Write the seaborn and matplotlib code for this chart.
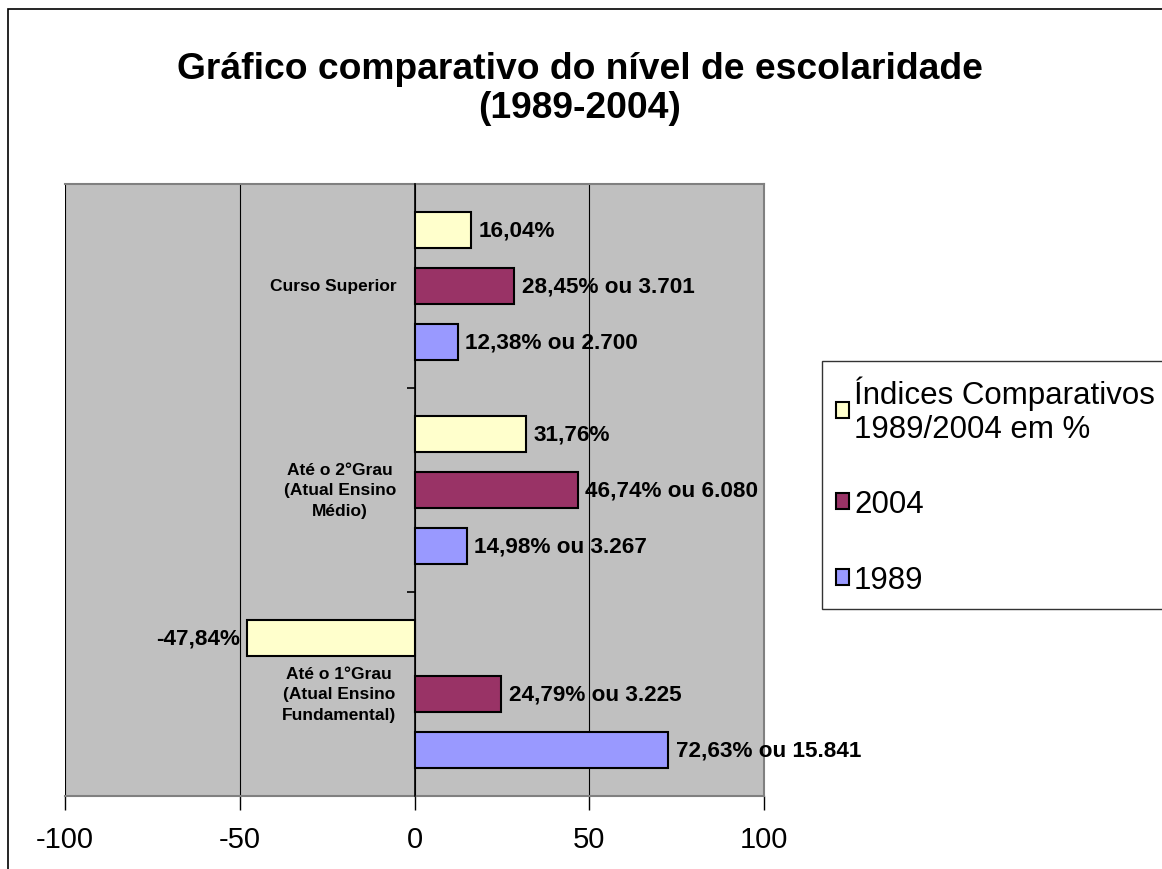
import matplotlib
matplotlib.use("Agg")
import matplotlib.pyplot as plt
import seaborn as sns
import pandas as pd
from matplotlib.patches import Rectangle

# ---- data ----
categories = ["Curso Superior",
              "Até o 2°Grau\n(Atual Ensino\nMédio)",
              "Até o 1°Grau\n(Atual Ensino\nFundamental)"]
series = ["Índices Comparativos\n1989/2004 em %", "2004", "1989"]
indices = [16.04, 31.76, -47.84]
v2004 = [28.45, 46.74, 24.79]
v1989 = [12.38, 14.98, 72.63]
labels_indices = ["16,04%", "31,76%", "-47,84%"]
labels_2004 = ["28,45% ou 3.701", "46,74% ou 6.080", "24,79% ou 3.225"]
labels_1989 = ["12,38% ou 2.700", "14,98% ou 3.267", "72,63% ou 15.841"]
xticks = [-100, -50, 0, 50, 100]
title = "Gráfico comparativo do nível de escolaridade\n(1989-2004)"
colors = ["#FFFFCC", "#993366", "#9999FF"]

plt.rcParams["font.family"] = ["Liberation Sans", "DejaVu Sans"]

df = pd.DataFrame({
    "cat": categories * 3,
    "series": [series[0]] * 3 + [series[1]] * 3 + [series[2]] * 3,
    "value": indices + v2004 + v1989,
})

W, H = 1162, 870
fig = plt.figure(figsize=(W / 100, H / 100), dpi=100)
fig.patch.set_facecolor("white")
ax = fig.add_axes([65 / W, 1 - 797 / H, (764 - 65) / W, (797 - 185) / H])
ax.set_facecolor("#C0C0C0")

sns.barplot(data=df, y="cat", x="value", hue="series", order=categories,
            hue_order=series, palette=dict(zip(series, colors)), orient="h",
            width=0.825, gap=0.345, saturation=1, edgecolor="black",
            linewidth=1.5, ax=ax, legend=True, zorder=3)

for cont, labs in zip(ax.containers, [labels_indices, labels_2004, labels_1989]):
    ax.bar_label(cont, labels=labs, padding=5.5, fontsize=16.2, fontweight="bold")

ax.set_xlim(-100, 100)
ax.set_ylim(2.5, -0.5)
ax.set_xticks(xticks)
ax.set_xticklabels([str(t) for t in xticks])
ax.tick_params(axis="x", labelsize=21, length=10, direction="out", pad=11,
               color="black", width=1)
ax.set_yticks([-0.5, 0.5, 1.5, 2.5])
ax.set_yticklabels(["", "", "", ""])
ax.tick_params(axis="y", length=6, direction="out", color="black", width=1.2)
ax.set_xlabel("")
ax.set_ylabel("")
ax.set_axisbelow(True)
ax.grid(axis="x", color="black", linewidth=0.8, zorder=0)
ax.grid(axis="y", visible=False)

ax.spines["left"].set_position(("data", 0))
ax.spines["left"].set_color("black")
ax.spines["left"].set_linewidth(1.2)
ax.spines["left"].set_zorder(4)
for s in ["top", "right", "bottom"]:
    ax.spines[s].set_color("#808080")
    ax.spines[s].set_linewidth(1.5)

# category labels beside the axis
for i, cat in enumerate(categories):
    ax.text(-5.2, i, cat, ha="right", va="center", multialignment="center",
            fontsize=12.5, fontweight="bold", linespacing=1.45, zorder=5)

# title
fig.text(580 / W, 1 - 89 / H, title, ha="center", va="center",
         fontsize=26.8, fontweight="bold", linespacing=1.15)

# legend
handles, labels = ax.get_legend_handles_labels()
ax.get_legend().remove()
leg = fig.legend(handles, labels, loc="upper left",
                 bbox_to_anchor=(822 / W, 1 - 362 / H), bbox_transform=fig.transFigure,
                 fontsize=22.5, frameon=True, fancybox=False, edgecolor="black",
                 handlelength=0.42, handleheight=0.42, handletextpad=0.15,
                 labelspacing=1.45, borderpad=0.45, borderaxespad=0)
leg.get_frame().set_linewidth(1.0)
leg.get_frame().set_facecolor("white")

# outer chart frame
fig.add_artist(Rectangle((8 / W, -0.1), 1.2, 1.1 - 10 / H, transform=fig.transFigure,
                         fill=False, edgecolor="black", linewidth=1.2))

fig.savefig("out.png", dpi=100)
